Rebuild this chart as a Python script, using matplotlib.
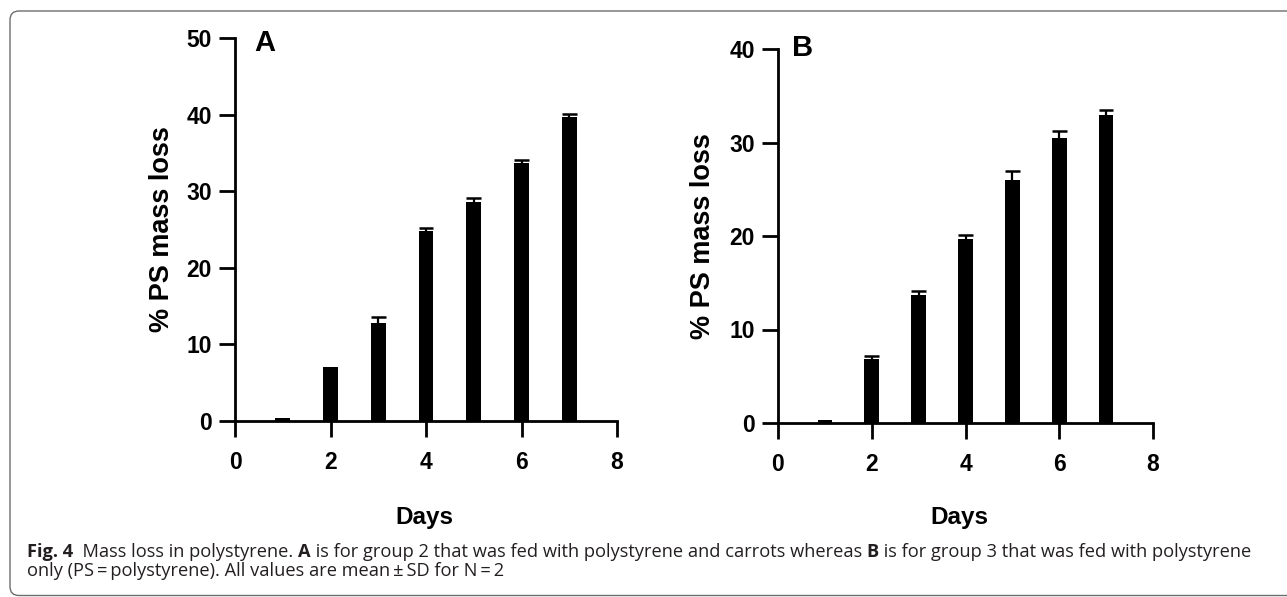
import matplotlib
matplotlib.use("Agg")
import matplotlib.pyplot as plt
from matplotlib.patches import FancyBboxPatch
from matplotlib.transforms import IdentityTransform
import numpy as np

# ---------------- data ----------------
days = [1, 2, 3, 4, 5, 6, 7]
loss_a = [0.4, 7.1, 12.8, 24.8, 28.6, 33.7, 39.7]
sd_a = [0.0, 0.0, 0.8, 0.35, 0.5, 0.35, 0.4]
loss_b = [0.3, 6.85, 13.65, 19.7, 25.95, 30.5, 32.9]
sd_b = [0.0, 0.3, 0.5, 0.4, 1.0, 0.75, 0.55]
x_ticks = [0, 2, 4, 6, 8]
y_ticks_a = [0, 10, 20, 30, 40, 50]
y_ticks_b = [0, 10, 20, 30, 40]
panel_labels = ["A", "B"]
x_label = "Days"
y_label = "% PS mass loss"

caption_line1 = [("Fig. 4", True), ("  Mass loss in polystyrene. ", False), ("A", True),
                 (" is for group 2 that was fed with polystyrene and carrots whereas ", False),
                 ("B", True), (" is for group 3 that was fed with polystyrene", False)]
caption_line2 = [("only (PS\u2009=\u2009polystyrene). All values are mean\u2009\u00b1\u2009SD for N\u2009=\u20092", False)]

W, H = 1287, 597
fig = plt.figure(figsize=(W / 100, H / 100), dpi=100)
fig.patch.set_facecolor("white")

FONT = "Liberation Sans"
BAR_W = 0.31


def make_panel(rect, vals, sds, yticks, ymax, letter, letter_xy, label_x, xlabel_x, xlabel_y):
    ax = fig.add_axes(rect)
    x = np.array(days, dtype=float)
    v = np.array(vals, dtype=float)
    s = np.array(sds, dtype=float)
    ax.bar(x, v, width=BAR_W, color="black", zorder=3)
    m = s > 0
    # upper-only error bars (stem + cap as wide as the bar)
    ax.vlines(x[m], v[m], v[m] + s[m], colors="black", linewidth=1.6, zorder=2)
    ax.hlines(v[m] + s[m], x[m] - BAR_W / 2, x[m] + BAR_W / 2, colors="black",
              linewidth=1.8, zorder=2)
    ax.set_xlim(0, 8)
    ax.set_ylim(0, ymax)
    ax.set_xticks(x_ticks)
    ax.set_yticks(yticks)
    for sp in ["top", "right"]:
        ax.spines[sp].set_visible(False)
    for sp in ["left", "bottom"]:
        ax.spines[sp].set_linewidth(2.0)
        ax.spines[sp].set_capstyle("projecting")
        ax.spines[sp].set_zorder(4)
    ax.tick_params(axis="both", direction="out", length=11.5, width=2.0, colors="black")
    ax.tick_params(axis="x", pad=10)
    ax.tick_params(axis="y", pad=5)
    for t in ax.get_xticklabels() + ax.get_yticklabels():
        t.set_fontfamily(FONT)
        t.set_fontweight("bold")
        t.set_fontsize(16.5)
    ax.set_ylabel(y_label, fontfamily=FONT, fontweight="bold", fontsize=19.5, va="center")
    ax.yaxis.set_label_coords(label_x, 0.5)
    ax.set_xlabel(x_label, fontfamily=FONT, fontweight="bold", fontsize=17.5, va="center")
    ax.xaxis.set_label_coords(xlabel_x, xlabel_y)
    ax.text(letter_xy[0], letter_xy[1], letter, transform=ax.transAxes, fontfamily=FONT,
            fontweight="bold", fontsize=21, va="center", ha="center")
    return ax


ax_a = make_panel([235 / W, 1 - 421 / H, 382 / W, 383 / H], loss_a, sd_a,
                  y_ticks_a, 50, panel_labels[0], (0.078, 0.987), -0.191, 0.497, -0.253)
ax_b = make_panel([778 / W, 1 - 423 / H, 375 / W, 374 / H], loss_b, sd_b,
                  y_ticks_b, 40, panel_labels[1], (0.065, 1.004), -0.200, 0.485, -0.254)

# frame with rounded left corners
frame = FancyBboxPatch((10, 1.5), 1400, H - 11 - 1.5,
                       boxstyle="round,pad=0,rounding_size=9",
                       transform=IdentityTransform(), facecolor="none",
                       edgecolor="#6d6d6d", linewidth=1.0, zorder=0)
fig.patches.append(frame)

# caption with mixed weights
fig.canvas.draw()
renderer = fig.canvas.get_renderer()
CAP_FONT = "Open Sans"
CAP_COLOR = "#231f20"
X0, X_END = 27, 1247


def draw_line(parts, x0, y_base_px, size):
    x = x0
    made = []
    for txt, bold in parts:
        t = fig.text(x / W, 1 - y_base_px / H, txt, fontfamily=CAP_FONT,
                     fontweight="bold" if bold else "normal", fontsize=size,
                     color=CAP_COLOR, va="baseline", ha="left")
        bb = t.get_window_extent(renderer)
        x = bb.x1
        made.append(t)
    return x, made


# measure line 1 at a trial size, then fit its width to the caption block
trial = 12.0
end, made = draw_line(caption_line1, X0, 557, trial)
for t in made:
    t.remove()
size = trial * (X_END - X0) / (end - X0)
draw_line(caption_line1, X0, 557, size)
draw_line(caption_line2, X0, 575.5, size)

fig.savefig("out.png", dpi=100, facecolor="white")
